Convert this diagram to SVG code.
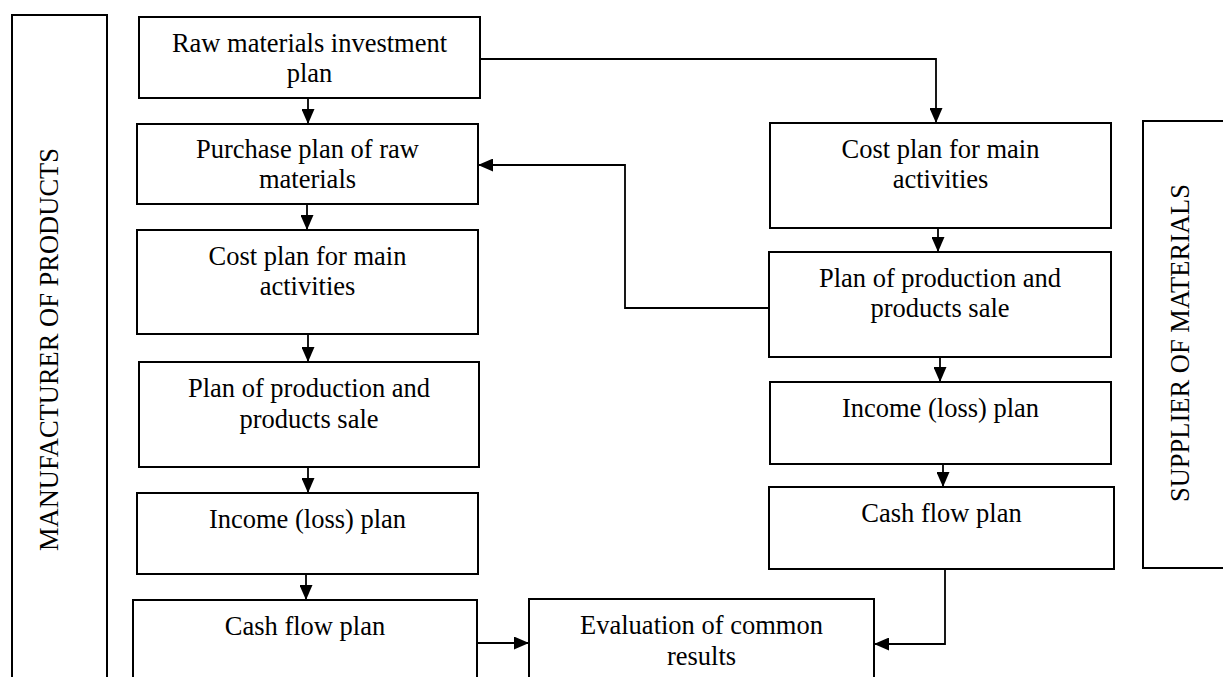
<svg xmlns="http://www.w3.org/2000/svg" width="1223" height="677" viewBox="0 0 1223 677">
<style>
.box{fill:#fff;stroke:#000;stroke-width:2}
.t{font-family:"Liberation Serif","Times New Roman",serif;font-size:26.5px;fill:#000;text-anchor:middle}
.c{fill:none;stroke:#000;stroke-width:1.8}
</style>
<defs>
<marker id="ah" markerUnits="userSpaceOnUse" markerWidth="15" markerHeight="13" refX="15" refY="6.5" orient="auto">
<path d="M0,0 L15,6.5 L0,13 z" fill="#000"/>
</marker>
</defs>
<rect width="1223" height="677" fill="#fff"/>
<g id="manufacturer">
<rect class="box" x="12" y="15" width="95" height="670"/>
<text class="t" transform="translate(58,349.5) rotate(-90)">MANUFACTURER OF PRODUCTS</text>
</g>
<g id="supplier">
<rect class="box" x="1143" y="121" width="90" height="447"/>
<text class="t" transform="translate(1189,343) rotate(-90)">SUPPLIER OF MATERIALS</text>
</g>
<g id="raw-investment">
<rect class="box" x="139" y="17" width="341" height="81"/>
<text class="t" x="309.5" y="52">Raw materials investment</text>
<text class="t" x="309.5" y="82">plan</text>
</g>
<g id="purchase-plan">
<rect class="box" x="137" y="124" width="341" height="80"/>
<text class="t" x="307.5" y="158">Purchase plan of raw</text>
<text class="t" x="307.5" y="188">materials</text>
</g>
<g id="cost-plan-left">
<rect class="box" x="137" y="230" width="341" height="104"/>
<text class="t" x="307.5" y="265">Cost plan for main</text>
<text class="t" x="307.5" y="295">activities</text>
</g>
<g id="production-left">
<rect class="box" x="139" y="362" width="340" height="105"/>
<text class="t" x="309" y="397">Plan of production and</text>
<text class="t" x="309" y="428">products sale</text>
</g>
<g id="income-left">
<rect class="box" x="137" y="493" width="341" height="81"/>
<text class="t" x="307.5" y="528">Income (loss) plan</text>
</g>
<g id="cashflow-left">
<rect class="box" x="133" y="600" width="344" height="90"/>
<text class="t" x="305" y="635">Cash flow plan</text>
</g>
<g id="evaluation">
<rect class="box" x="529" y="599" width="345" height="90"/>
<text class="t" x="701.5" y="634">Evaluation of common</text>
<text class="t" x="701.5" y="665">results</text>
</g>
<g id="cost-plan-right">
<rect class="box" x="770" y="123" width="341" height="105"/>
<text class="t" x="940.5" y="158">Cost plan for main</text>
<text class="t" x="940.5" y="188">activities</text>
</g>
<g id="production-right">
<rect class="box" x="769" y="252" width="342" height="105"/>
<text class="t" x="940" y="287">Plan of production and</text>
<text class="t" x="940" y="317">products sale</text>
</g>
<g id="income-right">
<rect class="box" x="770" y="382" width="341" height="82"/>
<text class="t" x="940.5" y="417">Income (loss) plan</text>
</g>
<g id="cashflow-right">
<rect class="box" x="769" y="487" width="345" height="82"/>
<text class="t" x="941.5" y="522">Cash flow plan</text>
</g>
<g id="connectors">
<path class="c" d="M308,98 V124" marker-end="url(#ah)"/>
<path class="c" d="M307,204 V230" marker-end="url(#ah)"/>
<path class="c" d="M308,334 V362" marker-end="url(#ah)"/>
<path class="c" d="M308,467 V493" marker-end="url(#ah)"/>
<path class="c" d="M306,574 V600" marker-end="url(#ah)"/>
<path class="c" d="M477,643 H529" marker-end="url(#ah)"/>
<path class="c" d="M480,59 H936 V123" marker-end="url(#ah)"/>
<path class="c" d="M938,228 V252" marker-end="url(#ah)"/>
<path class="c" d="M769,308 H625 V165 H478" marker-end="url(#ah)"/>
<path class="c" d="M940,357 V382" marker-end="url(#ah)"/>
<path class="c" d="M943,464 V487" marker-end="url(#ah)"/>
<path class="c" d="M945,569 V644 H874" marker-end="url(#ah)"/>
</g>
</svg>
